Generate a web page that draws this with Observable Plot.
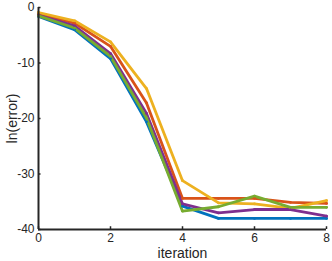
<!DOCTYPE html>
<html><head><meta charset="utf-8">
<script src="https://cdn.jsdelivr.net/npm/d3@7"></script>
<script src="https://cdn.jsdelivr.net/npm/@observablehq/plot@0.6"></script>
<style>
body{margin:0;background:#fff}
g[aria-label="x-axis label"] text, g[aria-label="y-axis label"] text {font-size:14px}
</style>
</head><body><div id="chart"></div>
<script>
const iterations = [0,1,2,3,4,5,6,7,8];
const seriesNames = ["s1","s2","s3","s4","s5"];
const seriesColors = ["#0072BD","#D95319","#EDB120","#7E2F8E","#77AC30"];
const blue   = [-1.6,-4.0,-9.2,-20.6,-35.8,-38.0,-38.0,-38.0,-38.0];
const orange = [-1.2,-2.8,-7.0,-17.2,-34.4,-34.4,-34.4,-35.1,-35.3];
const yellow = [-0.9,-2.4,-6.2,-14.6,-31.2,-35.2,-35.4,-36.2,-34.8];
const purple = [-1.4,-3.3,-8.3,-19.1,-35.4,-37.0,-36.4,-36.4,-37.6];
const green  = [-1.5,-3.7,-8.8,-19.9,-36.7,-35.9,-34.0,-36.0,-36.0];
const xTicks = [0,2,4,6,8];
const yTicks = [0,-10,-20,-30,-40];

const allSeries = [blue, orange, yellow, purple, green];
const data = [];
allSeries.forEach((vals, i) => vals.forEach((v, j) => data.push({series: seriesNames[i], x: iterations[j], y: v})));

const font = "Liberation Sans, Arial, Helvetica, sans-serif";
const plot = Plot.plot({
  width: 332, height: 261,
  marginLeft: 38, marginRight: 6, marginTop: 7, marginBottom: 32,
  style: {fontFamily: font, fontSize: "12px", color: "#262626", background: "#fff"},
  x: {domain: [0, 8], ticks: xTicks, tickFormat: d => String(d), tickSize: 0, tickPadding: 4, label: "iteration", labelAnchor: "center", labelOffset: 28, labelArrow: "none"},
  y: {domain: [-40, 0], ticks: yTicks, tickFormat: d => String(d), tickSize: 0, tickPadding: 4, label: "ln(error)", labelAnchor: "center", labelOffset: 31, labelArrow: "none"},
  color: {domain: seriesNames, range: seriesColors},
  marks: [
    Plot.line(data, {x: "x", y: "y", z: "series", stroke: "series", strokeWidth: 2.8, strokeLinejoin: "miter"}),
    Plot.dot(data, {x: "x", y: "y", fill: "series", r: 1.4}),
    Plot.ruleY([-40], {stroke: "#262626", strokeWidth: 2}),
    Plot.ruleX([0], {stroke: "#262626", strokeWidth: 2}),
    Plot.ruleX(xTicks, {y1: -40, y2: -39.5, stroke: "#262626", strokeWidth: 1.5}),
    Plot.ruleY(yTicks, {x1: 0, x2: 0.07, stroke: "#262626", strokeWidth: 1.5})
  ]
});
document.getElementById("chart").appendChild(plot);
</script>
</body></html>
